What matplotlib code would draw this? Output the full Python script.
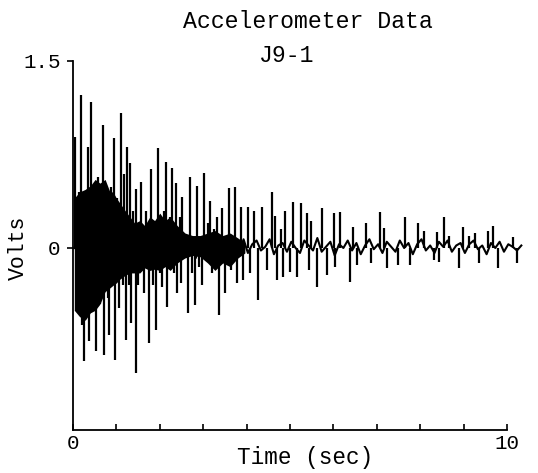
import matplotlib
matplotlib.use("Agg")
import matplotlib.pyplot as plt

# ---- data (time in s, volts) ----
# vertical spikes of the accelerometer trace
spike_t = [0.046, 0.092, 0.138, 0.184, 0.207, 0.260, 0.300, 0.339, 0.376, 0.415,
           0.461, 0.484, 0.530, 0.576, 0.622, 0.684, 0.703, 0.760, 0.806, 0.836,
           0.876, 0.899, 0.952, 0.968, 1.014, 1.067, 1.106, 1.141, 1.182, 1.210,
           1.251, 1.279, 1.313, 1.329, 1.382, 1.445, 1.463, 1.509, 1.574, 1.636,
           1.682, 1.751, 1.804, 1.843, 1.906, 1.965, 2.005, 2.058, 2.097, 2.136,
           2.173, 2.235, 2.288, 2.327, 2.366, 2.403, 2.454, 2.495, 2.523, 2.650,
           2.703, 2.753, 2.818, 2.857, 2.903, 2.972, 3.025, 3.111, 3.164, 3.203,
           3.249, 3.318, 3.357, 3.433, 3.509, 3.588, 3.647, 3.740, 3.779, 3.882,
           3.924, 4.039, 4.078, 4.171, 4.270, 4.348, 4.463, 4.578, 4.654, 4.694,
           4.793, 4.846, 4.885, 5.000, 5.076, 5.161, 5.247, 5.392, 5.449, 5.491,
           5.629, 5.737, 5.860, 6.014, 6.037, 6.159, 6.376, 6.452, 6.551, 6.758,
           6.873, 7.067, 7.166, 7.228, 7.488, 7.643, 7.758, 7.956, 8.094, 8.325,
           8.380, 8.440, 8.555, 8.671, 8.887, 8.993, 9.131, 9.270, 9.348, 9.555,
           9.684, 9.786, 10.131, 10.224]
spike_v = [0.89, -0.50, 0.45, 1.23, -0.62, -0.91, 0.40, 0.81, -0.75, 1.17,
           -0.40, 0.45, -0.83, 0.57, -0.45, 0.99, -0.86, 0.45, -0.40, -0.70,
           0.49, -0.30, 0.88, -0.90, 0.40, -0.48, 1.08, -0.30, 0.59, -0.74,
           0.81, -0.30, 0.68, -0.60, 0.30, -1.00, 0.47, -0.30, 0.53, -0.36,
           0.30, -0.76, 0.63, -0.30, -0.66, 0.80, -0.20, -0.31, 0.30, 0.69,
           -0.47, 0.25, 0.64, -0.20, 0.52, -0.36, 0.25, -0.28, 0.41, -0.52,
           0.57, -0.20, -0.46, 0.50, -0.15, -0.30, 0.60, 0.20, 0.38, -0.20,
           0.15, 0.25, -0.54, 0.32, -0.36, 0.48, -0.18, 0.49, -0.28, 0.33,
           -0.26, 0.33, -0.20, 0.30, -0.42, 0.33, -0.18, 0.45, 0.26, -0.26,
           0.15, -0.23, 0.30, -0.19, 0.37, -0.23, 0.36, 0.28, -0.18, 0.22,
           -0.31, 0.32, -0.22, 0.28, -0.15, 0.29, -0.27, 0.17, -0.14, 0.20,
           -0.12, 0.29, 0.16, -0.16, -0.14, 0.25, -0.14, 0.20, 0.14, -0.10,
           0.13, -0.11, 0.25, 0.10, -0.16, 0.17, 0.10, 0.12, -0.12, 0.14,
           0.18, -0.16, 0.09, -0.12]

# small wiggle of the trace between spikes (one value every 0.1 s from 0.03 s)
base_v = [0.00, 0.10, -0.12, 0.08, -0.10, 0.12, -0.08, 0.10, -0.12, 0.09,
          -0.10, 0.08, -0.09, 0.11, -0.07, 0.09, -0.10, 0.08, -0.06, 0.10,
          -0.08, 0.07, -0.09, 0.06, -0.08, 0.09, -0.05, 0.07, -0.08, 0.06,
          -0.05, 0.08, -0.07, 0.05, -0.06, 0.07, -0.05, 0.06, -0.04, 0.07,
          -0.04, 0.03, 0.06, -0.02, 0.01, 0.07, -0.05, 0.02, 0.04, -0.03,
          0.05, 0.00, -0.04, 0.06, 0.02, -0.02, 0.08, -0.03, 0.01, 0.05,
          -0.06, 0.03, 0.00, 0.06, -0.02, 0.04, -0.05, 0.02, 0.07, -0.01,
          0.03, -0.04, 0.05, 0.01, -0.03, 0.06, 0.00, 0.04, -0.05, 0.03,
          0.07, -0.02, 0.02, -0.04, 0.05, 0.01, 0.06, -0.03, 0.02, 0.04,
          -0.04, 0.03, 0.06, -0.01, 0.02, -0.05, 0.04, 0.00, 0.05, -0.03,
          0.03, 0.01, -0.02, 0.02]
base_t = [round(0.03 + 0.1 * i, 2) for i in range(len(base_v))]

# dense (solid black) core of the early oscillation
core_t = [0.03, 0.15, 0.28, 0.40, 0.51, 0.62, 0.74, 0.85, 0.92, 1.00,
          1.08, 1.20, 1.31, 1.42, 1.54, 1.65, 1.77, 1.88, 2.00, 2.12,
          2.24, 2.40, 2.58, 2.75, 2.93, 3.10, 3.27, 3.45, 3.62, 3.80, 3.96]
core_hi = [0.40, 0.45, 0.47, 0.50, 0.55, 0.52, 0.55, 0.45, 0.45, 0.40,
           0.36, 0.30, 0.25, 0.20, 0.22, 0.18, 0.25, 0.22, 0.28, 0.22,
           0.25, 0.18, 0.12, 0.10, 0.10, 0.12, 0.14, 0.10, 0.12, 0.08, 0.04]
core_lo = [-0.50, -0.55, -0.58, -0.52, -0.50, -0.45, -0.35, -0.32, -0.30, -0.28,
           -0.25, -0.22, -0.20, -0.20, -0.20, -0.16, -0.18, -0.17, -0.18, -0.15,
           -0.18, -0.12, -0.08, -0.06, -0.07, -0.12, -0.18, -0.12, -0.15, -0.08, -0.04]

x_ticks = list(range(0, 11))
x_labels = ["0", "", "", "", "", "", "", "", "", "", "10"]
y_ticks = [0, 1.5]
y_labels = ["0", "1.5"]

W, H = 538, 473
fig = plt.figure(figsize=(W / 100, H / 100), dpi=100)
ax = fig.add_axes([73 / W, 1 - 430 / H, (507 - 73) / W, (430 - 61) / H])

mono = "Liberation Mono"

ax.fill_between(core_t, core_lo, core_hi, color="black", linewidth=0)
ax.plot(base_t, base_v, color="black", linewidth=1.5, clip_on=False)
ax.vlines(spike_t, 0, spike_v, color="black", linewidth=1.6, clip_on=False)

ax.set_xlim(0, 10)
ax.set_ylim(-1.46, 1.5)
for s in ["top", "right"]:
    ax.spines[s].set_visible(False)
for s in ["left", "bottom"]:
    ax.spines[s].set_linewidth(1.3)

ax.set_xticks(x_ticks)
ax.set_xticklabels(x_labels, fontfamily=mono, fontsize=15)
ax.set_yticks(y_ticks)
ax.set_yticklabels(y_labels, fontfamily=mono, fontsize=15)
ax.tick_params(axis="x", direction="in", length=4, width=1.2, pad=3)
ax.tick_params(axis="y", direction="out", length=4, width=1.2, pad=5)

fig.text(308 / W, 1 - 22 / H, "Accelerometer Data", ha="center", va="center",
         fontfamily=mono, fontsize=16.7)
fig.text(287 / W, 1 - 55 / H, "J9-1", ha="center", va="center",
         fontfamily=mono, fontsize=16.7)
fig.text(18 / W, 1 - 248 / H, "Volts", ha="center", va="center", rotation=90,
         fontfamily=mono, fontsize=15.5)
fig.text(305 / W, 1 - 457 / H, "Time (sec)", ha="center", va="center",
         fontfamily=mono, fontsize=16.3)

fig.savefig("out.png", dpi=100)
